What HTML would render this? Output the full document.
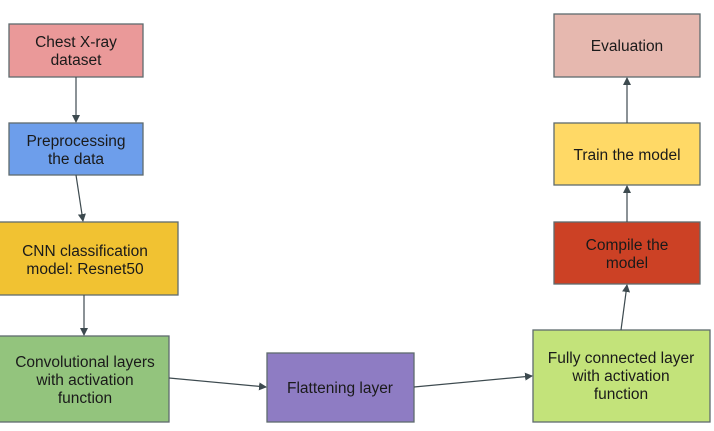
<!DOCTYPE html>
<html><head><meta charset="utf-8"><style>
html,body{margin:0;padding:0;background:#fff;}
svg{display:block;}
text{font-family:"Liberation Sans",sans-serif;font-size:15.5px;fill:#1a1a1a;text-anchor:middle;}
rect{stroke:#5f6b6e;stroke-width:1.3;}
line{stroke:#3d4a4f;stroke-width:1.2;}
</style></head><body>
<svg width="714" height="431" viewBox="0 0 714 431" xmlns="http://www.w3.org/2000/svg">
<defs><marker id="a" markerWidth="8" markerHeight="8" refX="7" refY="4" orient="auto" markerUnits="userSpaceOnUse"><path d="M0,0 L8,4 L0,8 z" fill="#3d4a4f"/></marker></defs>
<rect x="9" y="24" width="134" height="53" fill="#ea9999"/>
<text x="76" y="47">Chest X-ray</text><text x="76" y="65">dataset</text>
<rect x="9" y="123" width="134" height="52" fill="#6d9eeb"/>
<text x="76" y="146">Preprocessing</text><text x="76" y="164">the data</text>
<rect x="-1" y="222" width="179" height="73" fill="#f1c232"/>
<text x="85" y="256">CNN classification</text><text x="85" y="274">model: Resnet50</text>
<rect x="-1" y="336" width="170" height="86" fill="#93c47d"/>
<text x="85" y="367">Convolutional  layers</text><text x="85" y="385">with activation</text><text x="85" y="403">function</text>
<rect x="267" y="353" width="147" height="69" fill="#8e7cc3"/>
<text x="340" y="393">Flattening layer</text>
<rect x="533" y="330" width="177" height="92" fill="#c3e37a"/>
<text x="621" y="363">Fully connected layer</text><text x="621" y="381">with activation</text><text x="621" y="399">function</text>
<rect x="554" y="222" width="146" height="62" fill="#cc4125"/>
<text x="627" y="250">Compile the</text><text x="627" y="268">model</text>
<rect x="554" y="123" width="146" height="62" fill="#ffd966"/>
<text x="627" y="160">Train the model</text>
<rect x="554" y="14" width="146" height="63" fill="#e6b8af"/>
<text x="627" y="51">Evaluation</text>
<line x1="76" y1="77" x2="76" y2="122" marker-end="url(#a)"/>
<line x1="76" y1="175" x2="83" y2="221" marker-end="url(#a)"/>
<line x1="84" y1="295" x2="84" y2="335" marker-end="url(#a)"/>
<line x1="169" y1="378" x2="266" y2="387" marker-end="url(#a)"/>
<line x1="414" y1="387" x2="532" y2="376" marker-end="url(#a)"/>
<line x1="621" y1="330" x2="627" y2="285" marker-end="url(#a)"/>
<line x1="627" y1="222" x2="627" y2="186" marker-end="url(#a)"/>
<line x1="627" y1="123" x2="627" y2="78" marker-end="url(#a)"/>
</svg>
</body></html>
